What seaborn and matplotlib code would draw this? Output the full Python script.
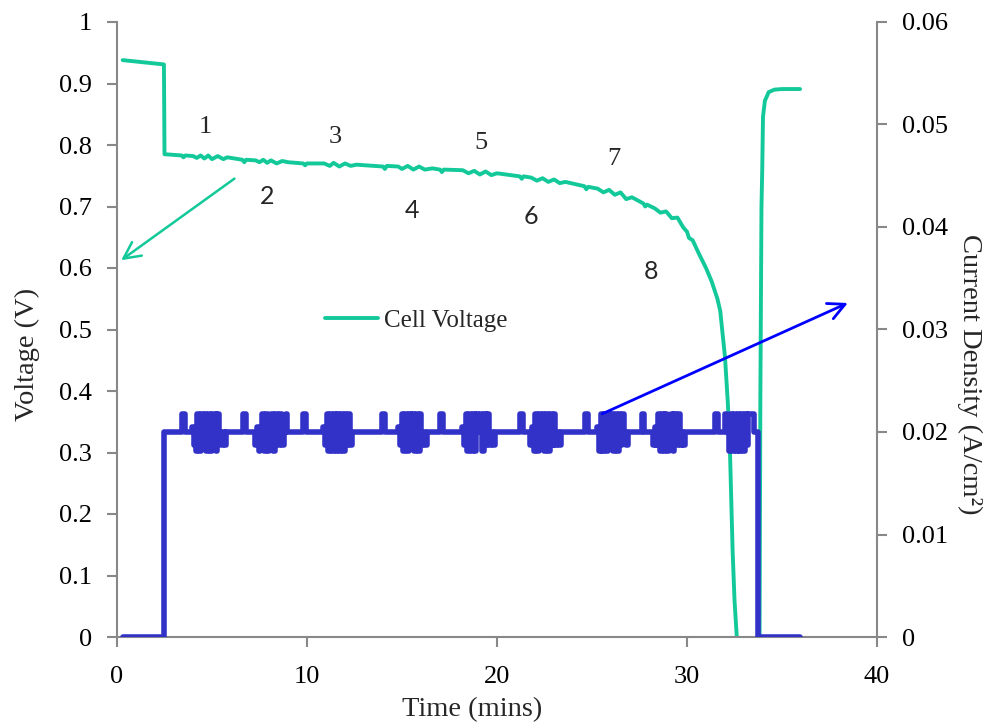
import matplotlib
matplotlib.use("Agg")
import matplotlib.pyplot as plt
import seaborn as sns
import pandas as pd

# ---------------- data ----------------
# Cell voltage (V) versus time (mins): discharge segment and recovery segment
volt_time = [0.3, 2.47, 2.50, 3.4, 3.5, 3.6, 4.0, 4.2, 4.4, 4.6, 4.8, 5.0, 5.3, 5.6, 5.8,
             6.6, 6.7, 6.8, 7.3, 7.5, 7.7, 7.9, 8.1, 8.4, 8.7, 9.0, 9.8, 9.9, 10.0,
             10.9, 11.2, 11.4, 11.7, 12.0, 12.3, 12.6, 14.0, 14.1, 14.2, 14.8, 15.0,
             15.3, 15.6, 15.9, 16.2, 16.6, 17.0, 17.1, 17.2, 18.2, 18.5, 18.8, 19.1,
             19.4, 19.7, 20.0, 21.2, 21.3, 21.4, 21.8, 22.1, 22.4, 22.7, 23.0, 23.3,
             23.6, 24.6, 24.7, 24.8, 25.3, 25.6, 25.9, 26.2, 26.5, 26.8, 27.1, 27.7,
             27.8, 27.9, 28.3, 28.6, 28.9, 29.2, 29.5, 29.8, 30.0, 30.1, 30.3, 30.6,
             31.0, 31.3, 31.6, 31.75, 32.0, 32.15, 32.26, 32.4, 32.5, 32.62]
volt_value = [0.938, 0.931, 0.785, 0.783, 0.780, 0.783, 0.782, 0.779, 0.783, 0.778, 0.783,
              0.777, 0.782, 0.777, 0.780, 0.776, 0.772, 0.776, 0.775, 0.772, 0.776,
              0.771, 0.775, 0.770, 0.774, 0.772, 0.770, 0.767, 0.770, 0.770, 0.766,
              0.771, 0.765, 0.770, 0.766, 0.768, 0.765, 0.761, 0.766, 0.765, 0.761,
              0.766, 0.760, 0.765, 0.760, 0.762, 0.760, 0.756, 0.760, 0.759, 0.754,
              0.758, 0.752, 0.757, 0.751, 0.754, 0.749, 0.745, 0.749, 0.747, 0.742,
              0.746, 0.740, 0.744, 0.738, 0.740, 0.733, 0.728, 0.732, 0.729, 0.723,
              0.727, 0.719, 0.723, 0.712, 0.715, 0.705, 0.700, 0.703, 0.697, 0.690,
              0.692, 0.681, 0.682, 0.666, 0.659, 0.649, 0.645, 0.625, 0.600, 0.578,
              0.550, 0.530, 0.455, 0.380, 0.304, 0.141, 0.060, 0.0]
recovery_time = [33.82, 33.86, 33.92, 33.96, 34.0, 34.1, 34.3, 34.6, 35.0, 35.95]
recovery_value = [0.0, 0.382, 0.700, 0.760, 0.846, 0.872, 0.886, 0.890, 0.891, 0.891]

# Current density (A/cm2): steady load with pulse trains
current_on, current_off = 2.47, 33.74
current_start, current_end = 0.3, 35.95
current_base = 0.020
spike_level = 0.0218
spike_time = [3.42, 6.63, 9.79, 13.95, 17.0, 21.21, 24.63, 27.62, 31.5]
burst_time = [3.95, 7.26, 10.84, 14.79, 18.16, 21.74, 25.26, 28.2, 32.0]
burst_step = 0.095
burst_levels = [
    [0.0205, 0.0187, 0.0181, 0.0218, 0.0181, 0.0218, 0.0200, 0.0218, 0.0181, 0.0218,
     0.0181, 0.0218, 0.0218, 0.0181, 0.0218, 0.0200, 0.0187, 0.0200, 0.0187],
    [0.0187, 0.0205, 0.0181, 0.0187, 0.0218, 0.0181, 0.0218, 0.0181, 0.0200, 0.0218,
     0.0181, 0.0218, 0.0218, 0.0187, 0.0218, 0.0187, 0.0200, 0.0218, 0.0200],
    [0.0205, 0.0187, 0.0218, 0.0181, 0.0218, 0.0181, 0.0218, 0.0181, 0.0218, 0.0181,
     0.0218, 0.0181, 0.0218, 0.0187, 0.0218, 0.0187],
    [0.0205, 0.0187, 0.0218, 0.0181, 0.0218, 0.0181, 0.0218, 0.0187, 0.0218, 0.0181,
     0.0218, 0.0181, 0.0218, 0.0187, 0.0200, 0.0187],
    [0.0205, 0.0187, 0.0218, 0.0181, 0.0218, 0.0181, 0.0218, 0.0181, 0.0218, 0.0200,
     0.0218, 0.0181, 0.0218, 0.0187, 0.0218, 0.0187, 0.0200, 0.0187, 0.0200],
    [0.0187, 0.0205, 0.0181, 0.0218, 0.0181, 0.0218, 0.0200, 0.0218, 0.0181, 0.0218,
     0.0181, 0.0218, 0.0187, 0.0218, 0.0187, 0.0200, 0.0187, 0.0200],
    [0.0205, 0.0181, 0.0218, 0.0181, 0.0218, 0.0181, 0.0218, 0.0200, 0.0218, 0.0181,
     0.0218, 0.0181, 0.0218, 0.0187, 0.0218, 0.0200, 0.0187, 0.0200],
    [0.0187, 0.0205, 0.0187, 0.0218, 0.0181, 0.0218, 0.0181, 0.0218, 0.0181, 0.0200,
     0.0218, 0.0181, 0.0218, 0.0187, 0.0218, 0.0187, 0.0200, 0.0187],
    [0.0218, 0.0200, 0.0181, 0.0218, 0.0181, 0.0218, 0.0181, 0.0218, 0.0181, 0.0218,
     0.0181, 0.0218, 0.0187, 0.0218, 0.0218, 0.0218, 0.0200],
]
spike_width = 0.14

# Markers for the pulse trains
label_odd = ["1", "3", "5", "7"]
label_odd_pos = [(4.63, 0.829), (11.47, 0.813), (19.16, 0.803), (26.16, 0.777)]
label_even = ["2", "4", "6", "8"]
label_even_pos = [(7.89, 0.717), (15.53, 0.693), (21.79, 0.683), (28.1, 0.594)]

x_ticks = [0, 10, 20, 30, 40]
v_ticks = [0, 0.1, 0.2, 0.3, 0.4, 0.5, 0.6, 0.7, 0.8, 0.9, 1]
v_tick_labels = ["0", "0.1", "0.2", "0.3", "0.4", "0.5", "0.6", "0.7", "0.8", "0.9", "1"]
j_ticks = [0, 0.01, 0.02, 0.03, 0.04, 0.05, 0.06]
j_tick_labels = ["0", "0.01", "0.02", "0.03", "0.04", "0.05", "0.06"]

# Assemble the current-density trace (held values, drawn as steps)
cur_t = [current_start, current_on]
cur_j = [0.0, current_base]
for ts, tb, levels in zip(spike_time, burst_time, burst_levels):
    cur_t += [ts, ts + spike_width]
    cur_j += [spike_level, current_base]
    for i, v in enumerate(levels):
        cur_t.append(tb + i * burst_step)
        cur_j.append(v)
    cur_t.append(tb + len(levels) * burst_step)
    cur_j.append(current_base)
cur_t += [current_off, current_end]
cur_j += [0.0, 0.0]

volt_df = pd.DataFrame({"time": volt_time, "voltage": volt_value})
recov_df = pd.DataFrame({"time": recovery_time, "voltage": recovery_value})
cur_df = pd.DataFrame({"time": cur_t, "current": cur_j})

# ---------------- style ----------------
sns.set_style("white")
plt.rcParams["font.family"] = ["Liberation Serif", "DejaVu Serif"]

teal = "#13C99A"
blue = "#3232C8"
axis_grey = "#888888"

fig = plt.figure(figsize=(9.9, 7.28), dpi=100)
ax = fig.add_axes([117 / 990, 91 / 728, 760 / 990, 615 / 728])
ax2 = ax.twinx()

round_line = dict(solid_capstyle="round", solid_joinstyle="round")
sns.lineplot(data=volt_df, x="time", y="voltage", ax=ax, color=teal, lw=2.8,
             estimator=None, sort=False, label="Cell Voltage", **round_line)
sns.lineplot(data=recov_df, x="time", y="voltage", ax=ax, color=teal, lw=2.8,
             estimator=None, sort=False, legend=False, **round_line)
sns.lineplot(data=cur_df, x="time", y="current", ax=ax2, color=blue, lw=4.0,
             estimator=None, sort=False, legend=False, drawstyle="steps-post",
             **round_line)

ax.set_xlim(0, 40)
ax.set_ylim(0, 1)
ax2.set_ylim(0, 0.06)

ax.set_xticks(x_ticks)
ax.set_xticklabels([str(t) for t in x_ticks])
ax.set_yticks(v_ticks)
ax.set_yticklabels(v_tick_labels)
ax2.set_yticks(j_ticks)
ax2.set_yticklabels(j_tick_labels)

for a in (ax, ax2):
    a.grid(False)
    a.spines["top"].set_visible(False)
    for s in ("left", "right", "bottom"):
        a.spines[s].set_color(axis_grey)
        a.spines[s].set_linewidth(1.5)
    a.tick_params(direction="out", length=7, width=1.5, color=axis_grey,
                  labelsize=19, pad=11, labelcolor="black")
ax.spines["right"].set_visible(False)
ax2.spines["left"].set_visible(False)
ax2.spines["bottom"].set_visible(False)
ax.tick_params(axis="x", pad=14)
ax.yaxis.set_ticks_position("left")
ax.xaxis.set_ticks_position("bottom")

ax.set_xlabel("Time (mins)", fontsize=20.5)
ax.xaxis.set_label_coords(0.467, -0.098)
ax.set_ylabel("Voltage (V)", fontsize=20.5, va="center")
ax.yaxis.set_label_coords(-0.118, 0.459)
ax2.set_ylabel("Current Density (A/cm²)", fontsize=20.5, rotation=270,
               va="center", ha="center")
ax2.yaxis.set_label_coords(1.122, 0.428)

leg = ax.legend(loc="center left", bbox_to_anchor=(0.274, 0.515), frameon=False,
                fontsize=18, handlelength=2.1, handletextpad=0.25,
                borderpad=0, borderaxespad=0)

for s, (x, y) in zip(label_odd, label_odd_pos):
    ax.text(x, y, s, ha="center", va="center", fontsize=19,
            family=["Liberation Serif"])
for s, (x, y) in zip(label_even, label_even_pos):
    ax.text(x, y, s, ha="center", va="center", fontsize=18, family=["Lato"])

# Arrows pointing each trace to its own axis
ax.annotate("", xy=(0.1, 0.61), xytext=(6.3, 0.748),
            arrowprops=dict(arrowstyle="->", color=teal, lw=1.8, mutation_scale=30))
ax2.annotate("", xy=(38.6, 0.545), xytext=(25.4, 0.361),
             xycoords=ax.transData, textcoords=ax.transData,
             arrowprops=dict(arrowstyle="->", color="#0000FF", lw=2.0, mutation_scale=30))

fig.savefig("out.png", dpi=100)
